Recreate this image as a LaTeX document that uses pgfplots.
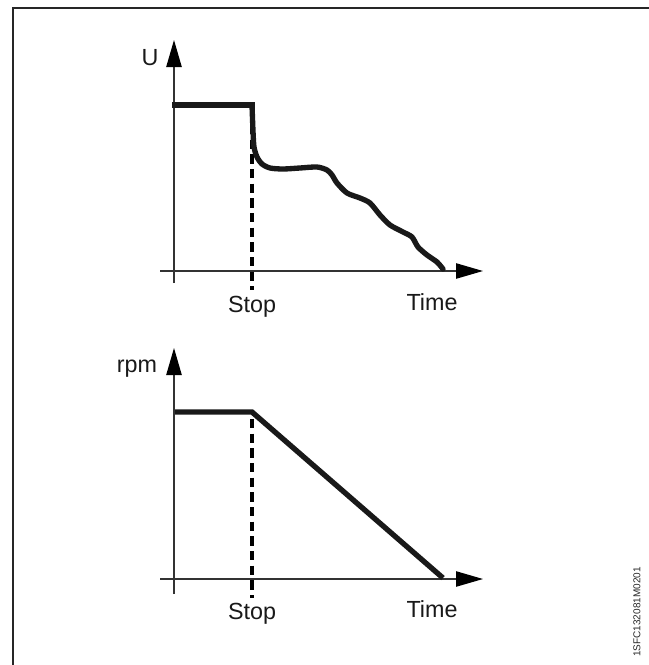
\documentclass[border=0pt]{standalone}
\usepackage{pgfplots}
\pgfplotsset{compat=1.18}
\usetikzlibrary{arrows.meta}
\usepackage{fontspec}
\setmainfont{Liberation Sans}
\pgfplotsset{diag/.style={hide axis, clip=false, scale only axis,
  x=0.75pt, y=0.75pt, xmin=-14, xmax=309, ymin=-20, ymax=231, anchor=origin}}
\tikzset{axarrow/.style={line width=1pt, color=black!80, -{Triangle[length=20.25pt,width=11.5pt,color=black]}},
  lbl/.style={anchor=base, font=\fontsize{17.5}{21}\selectfont, text=black!90}}
\begin{document}
\begin{tikzpicture}
% frame
\draw[line width=1.5pt, color=black!85] (9.75pt,-498.75pt) -- (9.75pt,-6pt) -- (486.75pt,-6pt);
% top diagram: U
\begin{axis}[diag, at={(130.5pt,-203.25pt)}]
\draw[axarrow] (axis cs:-14,0) -- (axis cs:309,0);
\draw[axarrow] (axis cs:0,-12) -- (axis cs:0,231);
\addplot[line width=2.4pt, dash pattern=on 7pt off 4pt, forget plot] coordinates {(78,146)(78,-19)};
\addplot[line width=4pt, line cap=rect, color=black!90] coordinates {(1,166)(78,166)};
\addplot[line width=4pt, line cap=round, color=black!90, smooth, tension=0.45] coordinates {
(78,166)(79,140)(80,124)(83,114)(88,107)(96,103)(109,102)(126,103)(143,104)(153,101)
(158,96)(163,88)(173,78)(186,73)(196,68)(206,56)(216,46)(229,39)(238,34)(244,24)
(253,16)(263,9)(269,2)};
\node[lbl] at (axis cs:-24,206) {U};
\node[lbl] at (axis cs:78,-41) {Stop};
\node[lbl] at (axis cs:258,-39) {Time};
\end{axis}
% bottom diagram: rpm
\begin{axis}[diag, at={(130.5pt,-434.25pt)}]
\draw[axarrow] (axis cs:-14,0) -- (axis cs:309,0);
\draw[axarrow] (axis cs:0,-15) -- (axis cs:0,231);
\addplot[line width=2.4pt, dash pattern=on 7pt off 4pt, forget plot] coordinates {(78,160)(78,-19)};
\addplot[line width=4pt, line cap=butt, line join=miter, color=black!90] coordinates {(1,167)(78,167)(269,1)};
\node[lbl] at (axis cs:-37,207) {rpm};
\node[lbl] at (axis cs:78,-40) {Stop};
\node[lbl] at (axis cs:258,-38) {Time};
\end{axis}
\node[rotate=90, font=\fontsize{7.5}{9}\selectfont, text=black!85] at (477.75pt,-459pt) {1SFC132081M0201};
\pgfresetboundingbox
\useasboundingbox (0,0) rectangle (486.75pt,-498.75pt);
\end{tikzpicture}
\end{document}
